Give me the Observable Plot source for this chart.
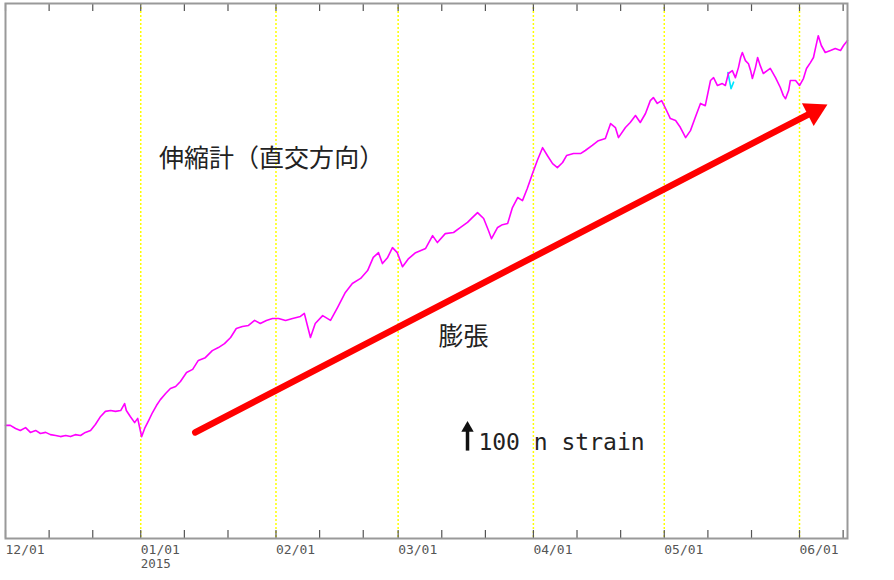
<!DOCTYPE html>
<html><head><meta charset="utf-8">
<script src="https://cdn.jsdelivr.net/npm/d3@7"></script>
<script src="https://cdn.jsdelivr.net/npm/@observablehq/plot@0.6"></script>
<style>body{margin:0;background:#fff;} #chart svg{display:block;}</style>
</head><body><div id="chart"></div>
<script>
// days since 2014-12-01 (UTC) and strain values (n strain, arbitrary zero)
const days = [0,1.1,2.3,3.4,4.6,5.7,6.9,8.0,9.2,10.3,11.5,12.6,13.8,14.9,16.0,17.2,18.3,19.5,20.6,21.8,22.9,24.1,25.2,26.4,27.3,27.7,28.6,29.6,30.3,30.7,31.2,31.9,32.8,33.7,34.6,35.5,36.7,37.8,39.0,40.1,41.5,42.9,44.2,45.8,47.4,48.8,50.2,51.6,52.9,54.3,55.7,57.1,58.4,59.8,61.2,62.6,64.2,65.8,67.6,68.5,69.2,69.9,71.0,72.7,74.5,76.1,77.9,79.5,81.4,83.0,84.3,85.5,86.4,87.6,88.7,89.8,91.0,92.4,94.0,96.3,97.9,99.0,100.8,102.7,104.3,105.9,107.0,108.2,109.6,110.7,111.4,112.8,113.9,115.1,116.2,117.4,118.5,119.6,120.8,121.9,123.1,124.2,125.4,126.5,127.7,128.6,130.2,131.8,132.9,134.5,135.9,137.5,138.7,139.8,140.5,142.1,143.2,144.4,145.5,146.7,147.8,148.5,149.4,150.4,151.3,152.4,153.6,154.7,155.9,157.0,158.1,159.3,160.4,161.6,162.3,163.2,164.3,165.0,165.7,166.6,167.3,168.0,168.5,168.9,169.6,170.3,170.8,171.2,171.9,172.4,173.0,173.7,174.6,175.3,176.5,177.6,178.3,178.8,179.5,179.9,181.1,182.0,182.9,183.6,184.5,185.2,185.7,186.3,187.0,187.9,189.1,190.2,191.4,192.1,193.0];
const strain = [404,404,393,386,396,379,386,375,379,371,368,364,368,364,371,368,379,386,407,436,454,457,454,457,482,457,436,414,429,400,364,393,421,450,475,496,518,536,543,561,593,604,636,646,671,682,696,718,750,757,761,779,768,779,786,786,779,786,793,804,761,718,768,796,779,825,879,911,929,957,1004,1021,982,1004,1039,1021,971,1000,1021,1036,1082,1057,1089,1093,1111,1129,1146,1164,1143,1100,1071,1111,1121,1125,1182,1218,1207,1250,1304,1350,1396,1368,1339,1325,1343,1368,1375,1375,1386,1404,1421,1429,1482,1468,1432,1468,1486,1511,1486,1518,1564,1575,1554,1564,1536,1500,1493,1468,1432,1457,1504,1554,1546,1636,1646,1618,1625,1618,1661,1671,1646,1682,1718,1736,1707,1696,1671,1643,1682,1718,1689,1661,1671,1679,1646,1611,1582,1571,1600,1636,1636,1618,1643,1679,1700,1718,1754,1796,1761,1736,1743,1750,1743,1761,1779];
// short second (cyan) trace visible under the magenta one
const cyanDays = [165.6, 166.3, 166.9];
const cyanStrain = [1664, 1607, 1630];

const monthStarts = ["2014-12-01","2015-01-01","2015-02-01","2015-03-01","2015-04-01","2015-05-01","2015-06-01"];
const monthLabels = ["12/01","01/01","02/01","03/01","04/01","05/01","06/01"];
const yearLabel = "2015";
const domainDays = [0, 193];

// annotations (day, strain)
const titleNote = {day: 61.0, value: 1357, text: "伸縮計（直交方向）"};
const expandNote = {day: 105.0, value: 718, text: "膨張"};
const scaleNote = {day: 108.4, value: 343, text: "100 n strain"};
const scaleArrow = {day: 105.9, from: 314, to: 394, headValue: 394};
const redArrow = {day1: 43.5, value1: 379, day2: 185.4, value2: 1526};

const t0 = Date.UTC(2014, 11, 1);
const toDate = d => new Date(t0 + d * 864e5);
const series = days.map((d, i) => ({date: toDate(d), value: strain[i]}));
const cyan = cyanDays.map((d, i) => ({date: toDate(d), value: cyanStrain[i]}));
const months = monthStarts.map(s => new Date(s + "T00:00:00Z"));
const xEnd = toDate(domainDays[1]);
const tickDates = months.flatMap(m => [0, 10, 20].map(k => d3.utcDay.offset(m, k))).filter(d => d <= xEnd);

const W = 894, H = 580, mt = 3, mb = 42, ml = 5, mr = 47;
const innerH = H - mt - mb;
const jp = "'Noto Sans CJK JP', sans-serif";
const mono = "'DejaVu Sans Mono', monospace";

const chart = Plot.plot({
  width: W, height: H,
  marginTop: mt, marginBottom: mb, marginLeft: ml, marginRight: mr,
  x: {type: "utc", domain: [toDate(domainDays[0]), xEnd], axis: null},
  y: {domain: [0, 1911], axis: null},
  style: {background: "white", overflow: "visible"},
  marks: [
    Plot.ruleX(months.slice(1), {x: d => d, stroke: "#ffff00", strokeWidth: 1.5, strokeDasharray: "2,2"}),
    Plot.line(cyan, {x: "date", y: "value", stroke: "#00e5ff", strokeWidth: 1.6}),
    Plot.line(series, {x: "date", y: "value", stroke: "#ff00ff", strokeWidth: 1.6}),
    Plot.link([redArrow], {x1: d => toDate(d.day1), y1: "value1", x2: d => toDate(d.day2), y2: "value2", stroke: "#ff0000", strokeWidth: 6.5, strokeLinecap: "round"}),
    Plot.dot([redArrow], {x: d => toDate(d.day2), y: "value2", symbol: "triangle", r: 9.5, fill: "#ff0000", rotate: 62.6}),
    Plot.link([scaleArrow], {x1: d => toDate(d.day), y1: "from", x2: d => toDate(d.day), y2: "to", stroke: "#111", strokeWidth: 3.5}),
    Plot.dot([scaleArrow], {x: d => toDate(d.day), y: "headValue", symbol: "triangle", r: 4.6, fill: "#111"}),
    Plot.text([titleNote], {x: d => toDate(d.day), y: "value", text: "text", fontFamily: jp, fontSize: 25, fill: "#222"}),
    Plot.text([expandNote], {x: d => toDate(d.day), y: "value", text: "text", fontFamily: jp, fontSize: 25, fill: "#222"}),
    Plot.text([scaleNote], {x: d => toDate(d.day), y: "value", text: "text", textAnchor: "start", fontFamily: mono, fontSize: 23, fill: "#222"}),
    Plot.tickX(tickDates, {x: d => d, insetTop: innerH - 8, stroke: "#555", strokeWidth: 1.2}),
    Plot.tickX(tickDates, {x: d => d, insetBottom: innerH - 8, stroke: "#555", strokeWidth: 1.2}),
    Plot.frame({stroke: "#999", strokeWidth: 2}),
    Plot.text(months, {x: d => d, text: (d, i) => monthLabels[i], frameAnchor: "bottom", dy: 15, textAnchor: "start", fontFamily: mono, fontSize: 13, fill: "#555"}),
    Plot.text([months[1]], {x: d => d, text: [yearLabel], frameAnchor: "bottom", dy: 29, textAnchor: "start", fontFamily: mono, fontSize: 12.5, fill: "#555"})
  ]
});
document.getElementById("chart").appendChild(chart);
</script>
</body></html>
